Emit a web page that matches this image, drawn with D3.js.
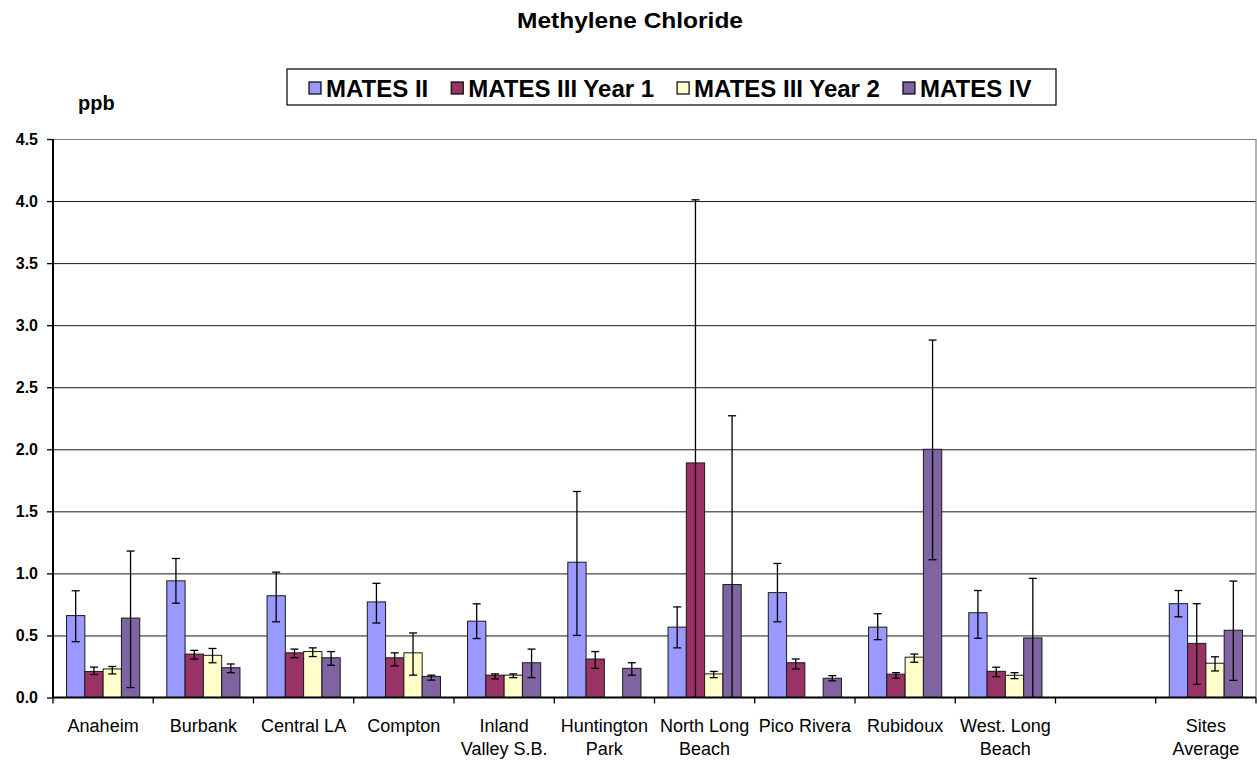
<!DOCTYPE html>
<html>
<head>
<meta charset="utf-8">
<script src="https://cdn.jsdelivr.net/npm/d3@7/dist/d3.min.js"></script>
<style>
  html, body { margin: 0; padding: 0; background: #fff; }
  svg { display: block; font-family: "Liberation Sans", Arial, sans-serif; }
</style>
</head>
<body>
<svg id="chart" width="1257" height="761"></svg>
<script>
// ---------------- DATA ----------------
const categories = [
  ["Anaheim"], ["Burbank"], ["Central LA"], ["Compton"], ["Inland", "Valley S.B."],
  ["Huntington", "Park"], ["North Long", "Beach"], ["Pico Rivera"], ["Rubidoux"],
  ["West. Long", "Beach"], [""], ["Sites", "Average"]
];
const seriesNames = ["MATES II", "MATES III Year 1", "MATES III Year 2", "MATES IV"];
const seriesColors = ["#9999FF", "#993366", "#FFFFCC", "#8064A2"];

const matesII     = [0.66, 0.94, 0.82, 0.77, 0.615, 1.09, 0.567, 0.845, 0.567, 0.683, null, 0.756];
const matesIIIY1  = [0.21, 0.35, 0.36, 0.32, 0.18, 0.31, 1.89, 0.28, 0.188, 0.211, null, 0.436];
const matesIIIY2  = [0.23, 0.34, 0.37, 0.36, 0.18, null, 0.19, null, 0.325, 0.179, null, 0.276];
const matesIV     = [0.64, 0.24, 0.32, 0.17, 0.28, 0.235, 0.91, 0.155, 2.0, 0.48, null, 0.542];

const matesIIHi    = [0.86, 1.12, 1.01, 0.92, 0.755, 1.66, 0.73, 1.08, 0.675, 0.862, null, 0.862];
const matesIILo    = [0.45, 0.76, 0.61, 0.60, 0.475, 0.50, 0.40, 0.61, 0.466, 0.477, null, 0.65];
const matesIIIY1Hi = [0.245, 0.38, 0.39, 0.36, 0.19, 0.37, 4.01, 0.31, 0.20, 0.244, null, 0.756];
const matesIIIY1Lo = [0.185, 0.31, 0.32, 0.255, 0.15, 0.235, 0.0, 0.23, 0.155, 0.168, null, 0.106];
const matesIIIY2Hi = [0.25, 0.395, 0.40, 0.52, 0.19, null, 0.21, null, 0.35, 0.20, null, 0.328];
const matesIIIY2Lo = [0.19, 0.28, 0.33, 0.18, 0.16, null, 0.16, null, 0.284, 0.152, null, 0.214];
const matesIVHi    = [1.18, 0.27, 0.37, 0.18, 0.39, 0.28, 2.27, 0.176, 2.88, 0.96, null, 0.938];
const matesIVLo    = [0.08, 0.20, 0.26, 0.14, 0.16, 0.18, 0.0, 0.134, 1.11, 0.0, null, 0.138];

const yTicks = [0.0, 0.5, 1.0, 1.5, 2.0, 2.5, 3.0, 3.5, 4.0, 4.5];

const seriesValues = [matesII, matesIIIY1, matesIIIY2, matesIV];
const seriesHi = [matesIIHi, matesIIIY1Hi, matesIIIY2Hi, matesIVHi];
const seriesLo = [matesIILo, matesIIIY1Lo, matesIIIY2Lo, matesIVLo];

// ---------------- LAYOUT ----------------
const svg = d3.select("#chart");
const plotLeft = 53, plotRight = 1256, plotTop = 139, plotBottom = 697.5;

const catIdx = categories.map((c, i) => i);
const x0 = d3.scaleBand().domain(catIdx).range([plotLeft, plotRight]).paddingInner(0).paddingOuter(0);
const x1 = d3.scaleBand().domain(d3.range(seriesNames.length)).range([0, x0.bandwidth()])
  .paddingInner(0).paddingOuter(0.74);
const y = d3.scaleLinear().domain([0, 4.5]).range([plotBottom, plotTop]);

// Title
svg.append("text")
  .attr("x", 630).attr("y", 28)
  .attr("text-anchor", "middle")
  .attr("font-size", 22).attr("font-weight", "bold")
  .attr("textLength", 226).attr("lengthAdjust", "spacingAndGlyphs")
  .text("Methylene Chloride");

// ppb
svg.append("text")
  .attr("x", 78).attr("y", 110)
  .attr("font-size", 20).attr("font-weight", "bold")
  .text("ppb");

// Gridlines
const grid = svg.append("g").attr("transform", `translate(${plotLeft},0)`)
  .call(d3.axisLeft(y).tickValues(yTicks.filter(t => t > 0)).tickSize(-(plotRight - plotLeft)).tickFormat(""));
grid.select(".domain").remove();
grid.selectAll(".tick line").attr("stroke", d => d === 4.5 ? "#808080" : "#1a1a1a").attr("stroke-width", 1);

// right border
svg.append("line").attr("x1", plotRight).attr("x2", plotRight).attr("y1", plotTop).attr("y2", plotBottom)
  .attr("stroke", "#808080").attr("stroke-width", 1.2);

// Bars
const groups = svg.append("g").selectAll("g")
  .data(seriesNames.map((n, s) => s))
  .join("g");

groups.each(function(s) {
  const g = d3.select(this);
  const vals = seriesValues[s];
  const dataPts = vals.map((v, i) => ({ i, v })).filter(d => d.v != null);
  g.selectAll("rect").data(dataPts).join("rect")
    .attr("x", d => x0(d.i) + x1(s))
    .attr("y", d => y(d.v))
    .attr("width", x1.bandwidth())
    .attr("height", d => y(0) - y(d.v))
    .attr("fill", seriesColors[s])
    .attr("stroke", "#1a1a1a").attr("stroke-width", 1);
});

// Error bars
groups.each(function(s) {
  const g = d3.select(this);
  const vals = seriesValues[s];
  const dataPts = vals.map((v, i) => ({ i, v, hi: seriesHi[s][i], lo: seriesLo[s][i] })).filter(d => d.v != null);
  const cx = d => x0(d.i) + x1(s) + x1.bandwidth() / 2;
  const cap = 4;
  const eg = g.append("g").attr("stroke", "#000").attr("stroke-width", 1.3);
  eg.selectAll("line.v").data(dataPts).join("line").attr("class", "v")
    .attr("x1", cx).attr("x2", cx).attr("y1", d => y(d.hi)).attr("y2", d => y(d.lo));
  eg.selectAll("line.h").data(dataPts).join("line").attr("class", "h")
    .attr("x1", d => cx(d) - cap).attr("x2", d => cx(d) + cap)
    .attr("y1", d => y(d.hi)).attr("y2", d => y(d.hi));
  eg.selectAll("line.l").data(dataPts.filter(d => d.lo > 0)).join("line").attr("class", "l")
    .attr("x1", d => cx(d) - cap).attr("x2", d => cx(d) + cap)
    .attr("y1", d => y(d.lo)).attr("y2", d => y(d.lo));
});

// Y axis
const yAxis = svg.append("g").attr("transform", `translate(${plotLeft},0)`)
  .call(d3.axisLeft(y).tickValues(yTicks).tickSize(6).tickPadding(9).tickFormat(d3.format(".1f")));
yAxis.select(".domain").attr("stroke", "#000").attr("stroke-width", 2).attr("d", `M0,${plotTop}V${plotBottom}`);
yAxis.selectAll(".tick line").attr("stroke", "#000").attr("stroke-width", 1.3);
yAxis.selectAll(".tick text").attr("font-size", 16).attr("font-weight", "bold")
  .attr("font-family", "'Liberation Sans', Arial, sans-serif").attr("fill", "#000");

// X axis
const boundaries = catIdx.map(i => x0(i)).concat([plotRight]);
const xg = svg.append("g");
xg.append("line").attr("x1", plotLeft).attr("x2", plotRight).attr("y1", plotBottom).attr("y2", plotBottom)
  .attr("stroke", "#000").attr("stroke-width", 2);
xg.selectAll("line.t").data(boundaries).join("line").attr("class", "t")
  .attr("x1", d => d).attr("x2", d => d).attr("y1", plotBottom).attr("y2", plotBottom + 6)
  .attr("stroke", "#000").attr("stroke-width", 1.3);

const labels = xg.selectAll("text.cat").data(catIdx).join("text").attr("class", "cat")
  .attr("x", i => x0(i) + x0.bandwidth() / 2)
  .attr("y", 732)
  .attr("text-anchor", "middle")
  .attr("font-size", 18)
  .attr("fill", "#000");
labels.each(function(i) {
  const t = d3.select(this);
  categories[i].forEach((line, k) => {
    t.append("tspan").attr("x", x0(i) + x0.bandwidth() / 2).attr("dy", k === 0 ? 0 : 23).text(line);
  });
});

// Legend
const lg = svg.append("g");
lg.append("rect").attr("x", 287).attr("y", 69).attr("width", 769).attr("height", 36)
  .attr("fill", "#fff").attr("stroke", "#000").attr("stroke-width", 1.2);
let lx = 309;
seriesNames.forEach((n, s) => {
  lg.append("rect").attr("x", lx).attr("y", 82).attr("width", 12).attr("height", 12)
    .attr("fill", seriesColors[s]).attr("stroke", "#000").attr("stroke-width", 1.2);
  const t = lg.append("text").attr("x", lx + 17).attr("y", 97)
    .attr("font-size", 24).attr("font-weight", "bold").attr("fill", "#000").text(n);
  lx = lx + 17 + t.node().getComputedTextLength() + 23;
});
</script>
</body>
</html>
